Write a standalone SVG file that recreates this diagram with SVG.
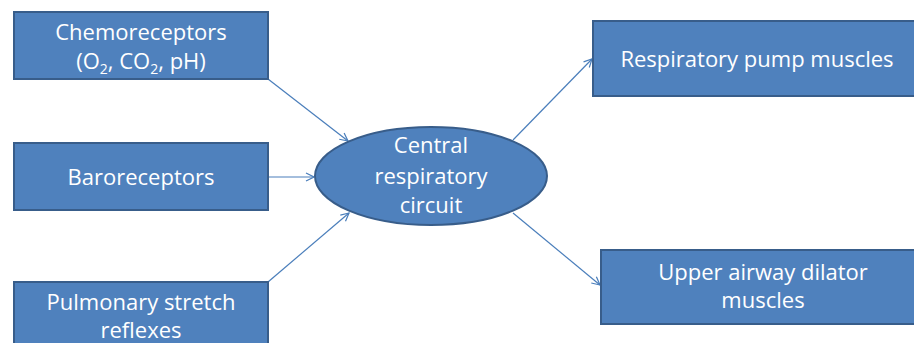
<svg xmlns="http://www.w3.org/2000/svg" width="914" height="343" viewBox="0 0 914 343">
<defs>
<style>
.box{fill:#4F81BD;stroke:#385D8A;stroke-width:2}
.t{font-family:"Open Sans","Liberation Sans",sans-serif;font-size:22px;fill:#FFFFFF;text-anchor:middle}
.c{stroke:#4A7EBB;stroke-width:1.2;fill:none;marker-end:url(#ah)}
.sub{font-size:14px}
</style>
<marker id="ah" viewBox="0 0 10 10" refX="9" refY="5" markerWidth="10" markerHeight="10" markerUnits="userSpaceOnUse" orient="auto">
<path d="M1,1 L9,5 L1,9" fill="none" stroke="#4A7EBB" stroke-width="1.2"/>
</marker>
</defs>
<rect width="914" height="343" fill="#FFFFFF"/>
<g id="connectors">
<line class="c" x1="268" y1="79" x2="348" y2="141"/>
<line class="c" x1="268" y1="177" x2="314" y2="177"/>
<line class="c" x1="268" y1="282" x2="349" y2="213"/>
<line class="c" x1="513" y1="140" x2="592" y2="59"/>
<line class="c" x1="513" y1="213" x2="600" y2="285"/>
</g>
<g id="chemoreceptors">
<rect class="box" x="14" y="12" width="254" height="67"/>
<text class="t" x="141" y="40">Chemoreceptors</text>
<text class="t" x="141" y="69">(O<tspan class="sub" dy="5">2</tspan><tspan dy="-5">, CO</tspan><tspan class="sub" dy="5">2</tspan><tspan dy="-5">, pH)</tspan></text>
</g>
<g id="baroreceptors">
<rect class="box" x="14" y="143" width="254" height="67"/>
<text class="t" x="141" y="185">Baroreceptors</text>
</g>
<g id="pulmonary">
<rect class="box" x="14" y="282" width="254" height="70"/>
<text class="t" x="141" y="310">Pulmonary stretch</text>
<text class="t" x="141" y="338">reflexes</text>
</g>
<g id="central">
<ellipse class="box" cx="431" cy="176" rx="116" ry="49"/>
<text class="t" x="431" y="153">Central</text>
<text class="t" x="431" y="184">respiratory</text>
<text class="t" x="431" y="213">circuit</text>
</g>
<g id="pump">
<rect class="box" x="593" y="21" width="330" height="75"/>
<text class="t" x="757" y="67">Respiratory pump muscles</text>
</g>
<g id="upper">
<rect class="box" x="601" y="250" width="330" height="74"/>
<text class="t" x="763" y="280">Upper airway dilator</text>
<text class="t" x="763" y="308">muscles</text>
</g>
</svg>
